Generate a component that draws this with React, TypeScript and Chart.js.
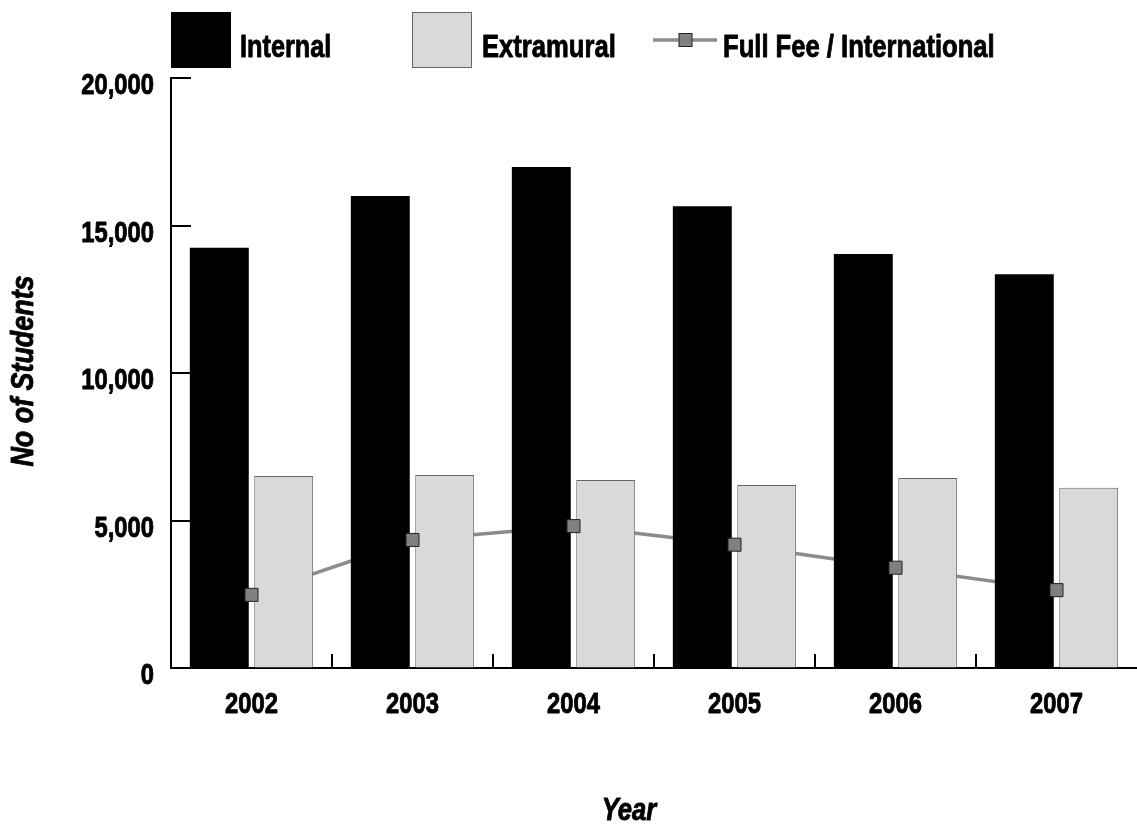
import React, { useEffect, useRef } from 'react';
import { Chart, registerables } from 'chart.js';

Chart.register(...registerables);

const years = ['2002', '2003', '2004', '2005', '2006', '2007'];
const internal = [14250, 16000, 16980, 15650, 14030, 13350];
const extramural = [6510, 6540, 6370, 6200, 6440, 6110];
const fullFee = [2480, 4340, 4810, 4180, 3400, 2640];
const seriesNames = ['Internal', 'Extramural', 'Full Fee / International'];
const yTicks = [0, 5000, 10000, 15000, 20000];
const yTitle = 'No of Students';
const xTitle = 'Year';

const FONT = "'Liberation Sans', Arial, sans-serif";
const INTERNAL_FILL = '#000000';
const EXTRA_FILL = '#d9d9d9';
const EXTRA_BORDER = '#666666';
const LINE_COLOR = '#8c8c8c';
const MARKER_FILL = '#808080';
const MARKER_BORDER = '#222222';

function condText(
  ctx: CanvasRenderingContext2D,
  text: string,
  x: number,
  y: number,
  align: CanvasTextAlign,
  size: number,
  italic: boolean,
  sx: number,
  rotate = 0
) {
  ctx.save();
  ctx.translate(x, y);
  if (rotate) ctx.rotate(rotate);
  ctx.scale(sx, 1);
  ctx.font = `${italic ? 'italic ' : ''}bold ${size}px ${FONT}`;
  ctx.textAlign = align;
  ctx.textBaseline = 'alphabetic';
  ctx.fillStyle = '#000';
  ctx.strokeStyle = '#000';
  ctx.lineWidth = 0.9;
  ctx.lineJoin = 'round';
  ctx.fillText(text, 0, 0);
  ctx.strokeText(text, 0, 0);
  ctx.restore();
}

const tickPlugin = {
  id: 'innerTicks',
  beforeDatasetsDraw(chart: any) {
    const { ctx, chartArea } = chart;
    const xs = chart.scales.x;
    const ys = chart.scales.y;
    ctx.save();
    ctx.strokeStyle = '#000';
    ctx.lineWidth = 2;
    ys.ticks.forEach((t: any, i: number) => {
      if (t.value === 0) return;
      const py = Math.round(ys.getPixelForTick(i));
      ctx.beginPath();
      ctx.moveTo(chartArea.left, py);
      ctx.lineTo(chartArea.left + 20, py);
      ctx.stroke();
    });
    for (let i = 1; i < years.length; i++) {
      const px = Math.round((xs.getPixelForTick(i - 1) + xs.getPixelForTick(i)) / 2);
      ctx.beginPath();
      ctx.moveTo(px, chartArea.bottom);
      ctx.lineTo(px, chartArea.bottom - 14);
      ctx.stroke();
    }
    ctx.restore();
  },
};

const decorPlugin = {
  id: 'decor',
  afterDraw(chart: any) {
    const { ctx, chartArea } = chart;
    const xs = chart.scales.x;
    const ys = chart.scales.y;
    ctx.save();

    // tick labels
    ys.ticks.forEach((t: any, i: number) => {
      const py = ys.getPixelForTick(i);
      condText(ctx, Number(t.value).toLocaleString('en-US'), chartArea.left - 17, py + 16, 'right', 29, false, 0.82);
    });
    years.forEach((lab, i) => {
      const px = xs.getPixelForTick(i);
      condText(ctx, lab, px, chartArea.bottom + 45, 'center', 29, false, 0.82);
    });

    // axis titles
    condText(ctx, yTitle, 33, 371, 'center', 32, true, 0.84, -Math.PI / 2);
    condText(ctx, xTitle, 629, 820, 'center', 32, true, 0.8);

    // legend
    const L = chartArea.left;
    // Internal
    ctx.fillStyle = INTERNAL_FILL;
    ctx.fillRect(L, 12, 60, 56);
    condText(ctx, seriesNames[0], L + 69, 57, 'left', 32, false, 0.79);
    // Extramural
    const ex = L + 241;
    ctx.fillStyle = EXTRA_FILL;
    ctx.fillRect(ex, 12, 60, 56);
    ctx.strokeStyle = EXTRA_BORDER;
    ctx.lineWidth = 1;
    ctx.strokeRect(ex + 0.5, 12.5, 59, 55);
    condText(ctx, seriesNames[1], ex + 70, 57, 'left', 32, false, 0.8);
    // Full fee
    const fx = L + 482;
    ctx.strokeStyle = LINE_COLOR;
    ctx.lineWidth = 3.5;
    ctx.beginPath();
    ctx.moveTo(fx, 40);
    ctx.lineTo(fx + 64, 40);
    ctx.stroke();
    ctx.fillStyle = MARKER_FILL;
    ctx.fillRect(fx + 26, 33.5, 13, 13);
    ctx.strokeStyle = MARKER_BORDER;
    ctx.lineWidth = 1;
    ctx.strokeRect(fx + 26, 33.5, 13, 13);
    condText(ctx, seriesNames[2], fx + 70, 57, 'left', 32, false, 0.8);
    ctx.restore();
  },
};

export default function App() {
  const ref = useRef<HTMLCanvasElement>(null);

  useEffect(() => {
    const chart = new Chart(ref.current as HTMLCanvasElement, {
      type: 'bar',
      data: {
        labels: years,
        datasets: [
          {
            type: 'bar',
            label: seriesNames[0],
            data: internal,
            backgroundColor: INTERNAL_FILL,
            borderWidth: 0,
            order: 1,
            categoryPercentage: 0.8,
            barPercentage: 0.915,
          } as any,
          {
            type: 'bar',
            label: seriesNames[1],
            data: extramural,
            backgroundColor: EXTRA_FILL,
            borderColor: EXTRA_BORDER,
            borderWidth: 1,
            order: 1,
            categoryPercentage: 0.8,
            barPercentage: 0.915,
          } as any,
          {
            type: 'line',
            label: seriesNames[2],
            data: fullFee,
            borderColor: LINE_COLOR,
            borderWidth: 3.5,
            pointRadius: 0,
            tension: 0,
            fill: false,
            order: 2,
          } as any,
          {
            type: 'line',
            label: seriesNames[2] + ' markers',
            data: fullFee,
            showLine: false,
            pointStyle: 'rect',
            pointRadius: 9.2,
            pointBackgroundColor: MARKER_FILL,
            pointBorderColor: MARKER_BORDER,
            pointBorderWidth: 1,
            order: 0,
          } as any,
        ],
      },
      options: {
        animation: false,
        responsive: false,
        devicePixelRatio: 1,
        events: [],
        layout: { autoPadding: false, padding: { top: 78, left: 0, right: -3, bottom: 0 } },
        plugins: {
          legend: { display: false },
          tooltip: { enabled: false },
          title: { display: false },
        },
        scales: {
          x: {
            type: 'category',
            offset: true,
            grid: { display: true, drawOnChartArea: false, drawTicks: false },
            border: { display: true, color: '#000', width: 2 },
            ticks: { display: false },
            afterFit: (s: any) => {
              s.height = 824 - 668;
            },
          },
          y: {
            min: 0,
            max: 20000,
            afterBuildTicks: (s: any) => {
              s.ticks = yTicks.map((v) => ({ value: v }));
            },
            grid: { display: true, drawOnChartArea: false, drawTicks: false },
            border: { display: true, color: '#000', width: 2 },
            ticks: { display: false },
            afterFit: (s: any) => {
              s.width = 171;
            },
          },
        },
      } as any,
      plugins: [tickPlugin, decorPlugin],
    });
    return () => chart.destroy();
  }, []);

  return (
    <div style={{ position: 'fixed', left: 0, top: 0, width: 1137, height: 824, background: '#fff' }}>
      <canvas ref={ref} width={1137} height={824} style={{ display: 'block', width: 1137, height: 824 }} />
    </div>
  );
}
